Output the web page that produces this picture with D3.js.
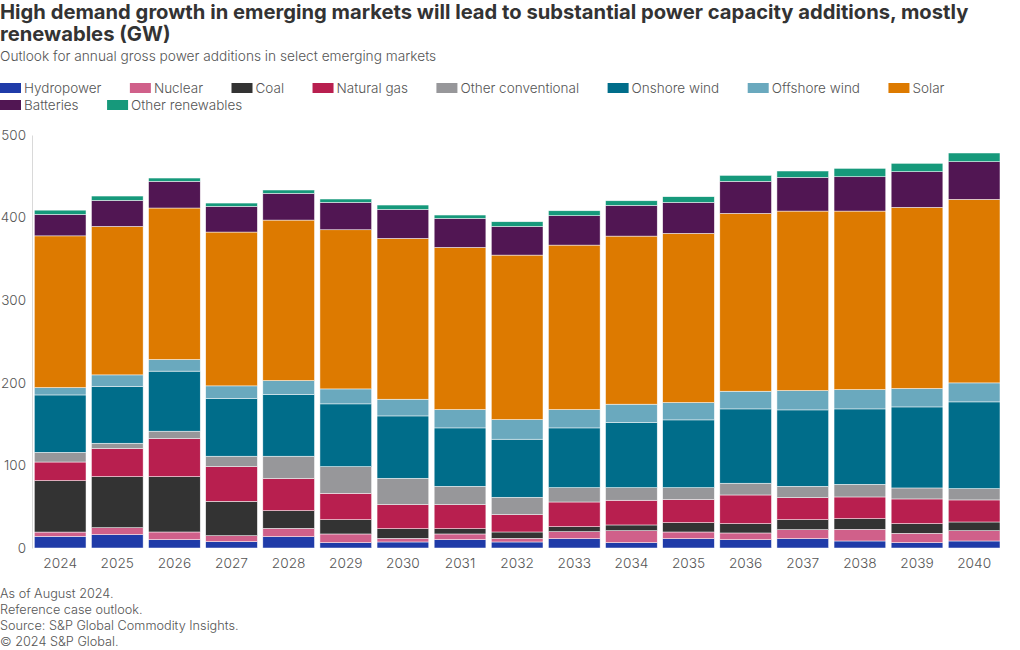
<!DOCTYPE html>
<html><head><meta charset="utf-8">
<script src="https://cdn.jsdelivr.net/npm/d3@7"></script>
<style>
body{margin:0;background:#fff;}
svg text{font-family:"Inter","Roboto",sans-serif;}
</style></head>
<body><svg id="c" width="1020" height="650"></svg>
<script>
const years = ["2024","2025","2026","2027","2028","2029","2030","2031","2032","2033","2034","2035","2036","2037","2038","2039","2040"];
const seriesNames = ["Hydropower","Nuclear","Coal","Natural gas","Other conventional","Onshore wind","Offshore wind","Solar","Batteries","Other renewables"];
const hydropower = [14.0,16.2,10.1,7.7,13.7,6.5,7.3,10.1,7.3,11.3,6.5,11.3,10.1,11.3,8.5,6.5,8.5];
const nuclear = [5.3,8.4,9.3,7.2,10.1,10.5,4.4,6.9,4.4,8.5,14.5,8.1,8.1,10.9,14.1,11.3,12.5];
const coal = [62.2,61.8,67.0,41.6,21.4,17.3,11.7,6.4,7.7,6.0,6.9,11.3,11.3,12.1,12.9,11.7,10.5];
const naturalGas = [22.6,34.0,46.1,42.0,38.8,31.9,29.1,29.1,21.0,29.9,29.9,27.9,34.7,26.7,26.3,29.9,26.7];
const otherConventional = [11.7,6.4,8.9,12.6,27.1,32.3,31.9,22.2,21.0,17.4,15.3,14.5,14.2,13.7,15.3,13.3,13.7];
const onshoreWind = [69.5,68.7,72.7,69.8,74.7,76.0,75.5,70.7,70.3,72.3,78.8,82.0,90.0,92.5,91.3,98.1,105.0];
const offshoreWind = [8.9,14.1,14.1,15.4,16.9,18.1,20.2,22.2,23.8,22.2,22.2,21.0,21.4,23.4,23.4,22.3,23.0];
const solar = [183.7,179.7,183.4,186.2,194.3,192.7,194.7,196.3,199.1,199.1,203.5,204.8,215.3,217.3,216.1,219.3,222.2];
const batteries = [25.9,31.5,32.3,31.1,32.3,33.1,35.1,35.1,34.7,35.6,37.2,37.5,38.8,40.8,41.6,43.2,45.6];
const otherRenewables = [5.2,5.3,4.0,4.0,4.1,4.1,5.3,4.1,5.7,6.0,5.6,6.9,7.2,7.7,10.1,10.1,10.5];
const yTicks = [0,100,200,300,400,500];
const colors = ["#1f3ba8","#d0608a","#333333","#b81f4f","#97979a","#006d8a","#6aa9be","#dd7a00","#511653","#16997b"];
const title1 = "High demand growth in emerging markets will lead to substantial power capacity additions, mostly";
const title2 = "renewables (GW)";
const subtitle = "Outlook for annual gross power additions in select emerging markets";
const footer = ["As of August 2024.","Reference case outlook.","Source: S&P Global Commodity Insights.","© 2024 S&P Global."];

const valuesBySeries = [hydropower,nuclear,coal,naturalGas,otherConventional,onshoreWind,offshoreWind,solar,batteries,otherRenewables];
const table = years.map((y,i)=>{const o={year:y}; seriesNames.forEach((s,j)=>o[s]=valuesBySeries[j][i]); return o;});

const svg = d3.select("#c");
svg.append("text").attr("x",0).attr("y",19).attr("font-size",20.2).attr("font-weight",700).attr("fill","#333").text(title1);
svg.append("text").attr("x",0).attr("y",41).attr("font-size",20.2).attr("font-weight",700).attr("fill","#333").text(title2);
svg.append("text").attr("x",0).attr("y",61).attr("font-size",13.7).attr("font-weight",300).attr("fill","#555").text(subtitle);

// legend flow layout
const lg = svg.append("g");
let lx = 0, ly = 88;
seriesNames.forEach((s,i)=>{
  const g = lg.append("g");
  const t = g.append("text").attr("x",24).attr("y",5).attr("font-size",13.5).attr("font-weight",300).attr("fill","#555").text(s);
  const w = 24 + t.node().getComputedTextLength();
  if (lx + w > 1000) { lx = 0; ly += 17; }
  g.attr("transform",`translate(${lx},${ly})`);
  g.insert("rect","text").attr("x",0).attr("y",-5).attr("width",21).attr("height",10).attr("fill",colors[i]);
  lx += w + 28.5;
});

const x = d3.scaleBand().domain(years).range([31.6,1002.7]).paddingInner(0.095).paddingOuter(0.0475);
const y = d3.scaleLinear().domain([0,500]).range([548,135]);

const stack = d3.stack().keys(seriesNames)(table);
svg.append("g").selectAll("g").data(stack).join("g")
  .attr("fill",(d,i)=>colors[i])
  .selectAll("rect").data(d=>d).join("rect")
  .attr("x",d=>x(d.data.year)).attr("width",x.bandwidth())
  .attr("y",d=>y(d[1])).attr("height",d=>y(d[0])-y(d[1]))
  .attr("stroke","#fff").attr("stroke-width",0.6).attr("stroke-opacity",0.8);

// y axis
const ya = svg.append("g").attr("transform","translate(32,0)")
  .call(d3.axisLeft(y).tickValues(yTicks).tickSize(0).tickPadding(6));
ya.select(".domain").attr("stroke","#d9d9d9");
ya.selectAll("text").attr("font-size",13.5).attr("font-weight",300).attr("fill","#555").attr("font-family","Inter, Roboto, sans-serif");

// x axis
const xa = svg.append("g").attr("transform","translate(0,548)")
  .call(d3.axisBottom(x).tickSize(0).tickPadding(10));
xa.select(".domain").remove();
xa.selectAll("text").attr("font-size",13.7).attr("font-weight",300).attr("fill","#555").attr("font-family","Inter, Roboto, sans-serif");

footer.forEach((f,i)=>svg.append("text").attr("x",0).attr("y",598+i*16).attr("font-size",12.7).attr("font-weight",300).attr("fill","#555").text(f));
</script></body></html>
